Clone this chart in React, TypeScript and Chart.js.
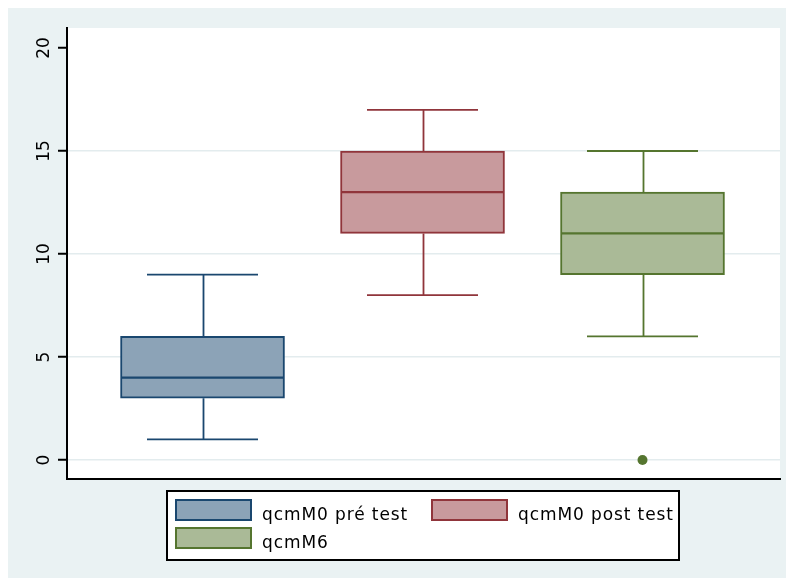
import { useEffect, useRef } from 'react';
import { Chart, registerables } from 'chart.js';

Chart.register(...registerables);

// ---- data ----
const groups = ['qcmM0 pré test', 'qcmM0 post test', 'qcmM6'];
const positions = [1, 2, 3];
const mins = [1, 8, 6];
const q1s = [3, 11, 9];
const medians = [4, 13, 11];
const q3s = [6, 15, 13];
const maxs = [9, 17, 15];
const outlierPositions = [3];
const outlierValues = [0];
const yTicks = [0, 5, 10, 15, 20];

// ---- styles ----
const strokeColors = ['#1a476f', '#90353b', '#55752f'];
const fillColors = ['#8ca3b7', '#c89a9d', '#aaba97'];
const BG = '#eaf2f3';
const GRID = '#e3ecee';
const FONT = '17px "DejaVu Sans", sans-serif';
const BOX_PX = 164;
const CAP_PX = 111;

const boxPlugin = {
  id: 'boxExtras',
  beforeDraw(chart: any) {
    const { ctx, chartArea: a, width, height } = chart;
    ctx.save();
    ctx.fillStyle = BG;
    ctx.fillRect(0, 0, width, height);
    ctx.fillStyle = '#ffffff';
    ctx.fillRect(a.left, a.top, a.right - a.left, a.bottom - a.top);
    ctx.restore();
  },
  afterDatasetsDraw(chart: any) {
    const { ctx } = chart;
    const xs = chart.scales.x;
    const ys = chart.scales.y;
    ctx.save();
    for (let i = 0; i < positions.length; i++) {
      const c = xs.getPixelForValue(positions[i]);
      const cx = Math.round(c) + 0.5;
      const yMin = ys.getPixelForValue(mins[i]);
      const yQ1 = ys.getPixelForValue(q1s[i]);
      const yMed = ys.getPixelForValue(medians[i]);
      const yQ3 = ys.getPixelForValue(q3s[i]);
      const yMax = ys.getPixelForValue(maxs[i]);
      ctx.strokeStyle = strokeColors[i];
      ctx.lineWidth = 1.8;
      ctx.beginPath();
      ctx.moveTo(cx, yQ3);
      ctx.lineTo(cx, yMax);
      ctx.moveTo(c - CAP_PX / 2, yMax);
      ctx.lineTo(c + CAP_PX / 2, yMax);
      ctx.moveTo(cx, yQ1);
      ctx.lineTo(cx, yMin);
      ctx.moveTo(c - CAP_PX / 2, yMin);
      ctx.lineTo(c + CAP_PX / 2, yMin);
      ctx.stroke();
      ctx.lineWidth = 2.2;
      ctx.beginPath();
      ctx.moveTo(c - BOX_PX / 2 + 1, yMed);
      ctx.lineTo(c + BOX_PX / 2 - 1, yMed);
      ctx.stroke();
    }
    ctx.restore();
  },
  afterDraw(chart: any) {
    const { ctx } = chart;
    const ys = chart.scales.y;
    ctx.save();
    // y tick labels (rotated)
    ctx.fillStyle = '#000';
    ctx.font = FONT;
    ctx.textAlign = 'center';
    ctx.textBaseline = 'alphabetic';
    for (const v of yTicks) {
      const py = ys.getPixelForValue(v);
      ctx.save();
      ctx.translate(41, py);
      ctx.rotate(-Math.PI / 2);
      ctx.fillText(String(v), 0, 0);
      ctx.restore();
    }
    // legend
    ctx.fillStyle = '#ffffff';
    ctx.fillRect(159, 483, 512, 69);
    ctx.strokeStyle = '#000';
    ctx.lineWidth = 2;
    ctx.strokeRect(159, 483, 512, 69);
    ctx.textAlign = 'left';
    (ctx as any).letterSpacing = '0.9px';
    for (let i = 0; i < groups.length; i++) {
      const col = i % 2;
      const row = Math.floor(i / 2);
      const bx = 168 + col * 256;
      const by = 492 + row * 28;
      ctx.fillStyle = fillColors[i];
      ctx.fillRect(bx, by, 75, 20);
      ctx.strokeStyle = strokeColors[i];
      ctx.lineWidth = 2;
      ctx.strokeRect(bx, by, 75, 20);
      ctx.fillStyle = '#000';
      ctx.fillText(groups[i], bx + 86, by + 20);
    }
    ctx.restore();
  },
};

export default function App() {
  const ref = useRef<HTMLCanvasElement>(null);
  useEffect(() => {
    if (!ref.current) return;
    const chart = new Chart(ref.current, {
      type: 'bar',
      data: {
        datasets: [
          ...groups.map((g, i) => ({
            type: 'bar' as const,
            label: g,
            data: [{ x: positions[i], y: [q1s[i], q3s[i]] }] as any,
            backgroundColor: fillColors[i],
            borderColor: strokeColors[i],
            borderWidth: 2,
            borderSkipped: false,
            barThickness: BOX_PX,
            grouped: false,
          })),
          {
            type: 'scatter' as const,
            label: 'outliers',
            data: outlierPositions.map((p, k) => ({ x: p, y: outlierValues[k] })) as any,
            backgroundColor: strokeColors[2],
            borderColor: strokeColors[2],
            pointRadius: 5,
            pointBorderWidth: 0,
          },
        ],
      },
      options: {
        responsive: false,
        animation: false,
        events: [],
        layout: { padding: { top: 20, right: 6, bottom: 99, left: 0 } },
        plugins: { legend: { display: false }, tooltip: { enabled: false } },
        scales: {
          x: {
            type: 'linear',
            offset: false,
            min: 0.384,
            max: 3.625,
            ticks: { display: false },
            grid: { display: false, drawTicks: false, offset: false },
            border: { display: true, color: '#000', width: 2 },
            afterFit: (s: any) => { s.height = 0; },
          },
          y: {
            type: 'linear',
            min: -0.922,
            max: 20.97,
            afterBuildTicks: (s: any) => { s.ticks = yTicks.map((v) => ({ value: v })); },
            ticks: { display: false },
            grid: {
              color: (c: any) => (c.tick && c.tick.value === 20 ? 'rgba(0,0,0,0)' : GRID),
              lineWidth: 1.5,
              tickColor: '#000',
              tickLength: 9,
              tickWidth: 2,
            },
            border: { display: true, color: '#000', width: 2 },
            afterFit: (s: any) => { s.width = 59; },
          },
        },
      },
      plugins: [boxPlugin],
    });
    return () => chart.destroy();
  }, []);
  return (
    <div style={{ position: 'fixed', left: 8, top: 8, width: 778, height: 570 }}>
      <canvas ref={ref} width={778} height={570} style={{ display: 'block' }} />
    </div>
  );
}
